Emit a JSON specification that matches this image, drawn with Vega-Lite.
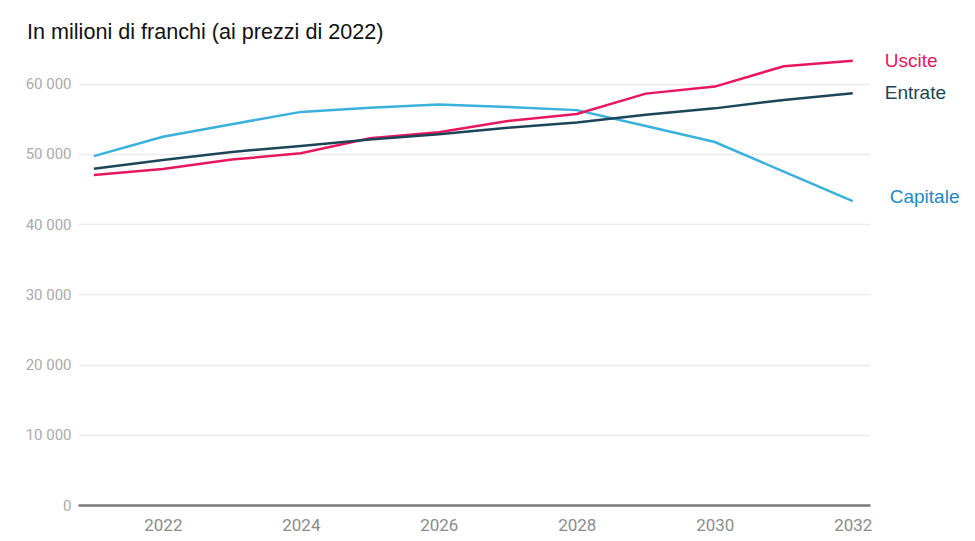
{
  "$schema": "https://vega.github.io/schema/vega-lite/v6.json",
  "width": 792,
  "height": 456,
  "autosize": {"type": "none"},
  "padding": {"left": 78, "top": 49, "right": 105, "bottom": 36},
  "title": {
    "text": "In milioni di franchi (ai prezzi di 2022)",
    "anchor": "start",
    "frame": "group",
    "orient": "top",
    "dx": -51,
    "offset": -12,
    "baseline": "alphabetic",
    "font": "Liberation Sans",
    "fontSize": 21.6,
    "fontWeight": "normal",
    "color": "#111111"
  },
  "config": {
    "view": {"stroke": null},
    "axis": {"labelFont": "Roboto", "labelColor": "#999999", "labelFontSize": 15}
  },
  "data": {
    "values": [
      {"anno": 2021, "serie": "Capitale", "valore": 49700},
      {"anno": 2022, "serie": "Capitale", "valore": 52450},
      {"anno": 2023, "serie": "Capitale", "valore": 54250},
      {"anno": 2024, "serie": "Capitale", "valore": 56000},
      {"anno": 2025, "serie": "Capitale", "valore": 56600},
      {"anno": 2026, "serie": "Capitale", "valore": 57050},
      {"anno": 2027, "serie": "Capitale", "valore": 56700},
      {"anno": 2028, "serie": "Capitale", "valore": 56250},
      {"anno": 2029, "serie": "Capitale", "valore": 54000},
      {"anno": 2030, "serie": "Capitale", "valore": 51700},
      {"anno": 2031, "serie": "Capitale", "valore": 47500},
      {"anno": 2032, "serie": "Capitale", "valore": 43300},
      {"anno": 2021, "serie": "Uscite", "valore": 47000},
      {"anno": 2022, "serie": "Uscite", "valore": 47850},
      {"anno": 2023, "serie": "Uscite", "valore": 49200},
      {"anno": 2024, "serie": "Uscite", "valore": 50100},
      {"anno": 2025, "serie": "Uscite", "valore": 52250},
      {"anno": 2026, "serie": "Uscite", "valore": 53100},
      {"anno": 2027, "serie": "Uscite", "valore": 54700},
      {"anno": 2028, "serie": "Uscite", "valore": 55700},
      {"anno": 2029, "serie": "Uscite", "valore": 58600},
      {"anno": 2030, "serie": "Uscite", "valore": 59600},
      {"anno": 2031, "serie": "Uscite", "valore": 62500},
      {"anno": 2032, "serie": "Uscite", "valore": 63300},
      {"anno": 2021, "serie": "Entrate", "valore": 47900},
      {"anno": 2022, "serie": "Entrate", "valore": 49150},
      {"anno": 2023, "serie": "Entrate", "valore": 50300},
      {"anno": 2024, "serie": "Entrate", "valore": 51150},
      {"anno": 2025, "serie": "Entrate", "valore": 52050},
      {"anno": 2026, "serie": "Entrate", "valore": 52800},
      {"anno": 2027, "serie": "Entrate", "valore": 53750},
      {"anno": 2028, "serie": "Entrate", "valore": 54500},
      {"anno": 2029, "serie": "Entrate", "valore": 55600},
      {"anno": 2030, "serie": "Entrate", "valore": 56500},
      {"anno": 2031, "serie": "Entrate", "valore": 57700},
      {"anno": 2032, "serie": "Entrate", "valore": 58650}
    ]
  },
  "encoding": {
    "x": {
      "field": "anno",
      "type": "quantitative",
      "scale": {"domain": [2020.77, 2032.25], "nice": false, "zero": false},
      "axis": {
        "title": null,
        "values": [2022, 2024, 2026, 2028, 2030, 2032],
        "format": "d",
        "grid": false,
        "ticks": false,
        "domain": true,
        "domainColor": "#7a7a7a",
        "domainWidth": 2.5,
        "labelFontSize": 17,
        "labelColor": "#8c8c8c",
        "labelPadding": 12
      }
    },
    "y": {
      "field": "valore",
      "type": "quantitative",
      "scale": {"domain": [0, 64957], "nice": false},
      "axis": {
        "title": null,
        "values": [0, 10000, 20000, 30000, 40000, 50000, 60000],
        "labelExpr": "replace(format(datum.value, ','), ',', ' ')",
        "grid": true,
        "gridColor": "#ececec",
        "gridWidth": 1.5,
        "ticks": false,
        "domain": false,
        "labelPadding": 7,
        "labelColor": "#aaaaaa"
      }
    },
    "color": {
      "field": "serie",
      "type": "nominal",
      "scale": {
        "domain": ["Uscite", "Entrate", "Capitale"],
        "range": ["#e8175d", "#1c4657", "#3ab0dc"]
      },
      "legend": null
    }
  },
  "layer": [
    {
      "mark": {"type": "line", "strokeWidth": 2.5}
    },
    {
      "transform": [{"filter": "datum.anno == 2032 && datum.serie != 'Capitale'"}],
      "mark": {"type": "text", "align": "left", "baseline": "middle", "dx": 32, "dy": 0, "font": "Liberation Sans", "fontSize": 19},
      "encoding": {
        "text": {"field": "serie"},
        "color": {
          "field": "serie",
          "type": "nominal",
          "scale": {"domain": ["Uscite", "Entrate", "Capitale"], "range": ["#e8175d", "#1b5068", "#1e8ac4"]},
          "legend": null
        }
      }
    },
    {
      "transform": [{"filter": "datum.anno == 2032 && datum.serie == 'Capitale'"}],
      "mark": {"type": "text", "align": "left", "baseline": "middle", "dx": 37, "dy": -4, "font": "Liberation Sans", "fontSize": 19},
      "encoding": {
        "text": {"field": "serie"},
        "color": {"value": "#1e8ac4"}
      }
    }
  ]
}
